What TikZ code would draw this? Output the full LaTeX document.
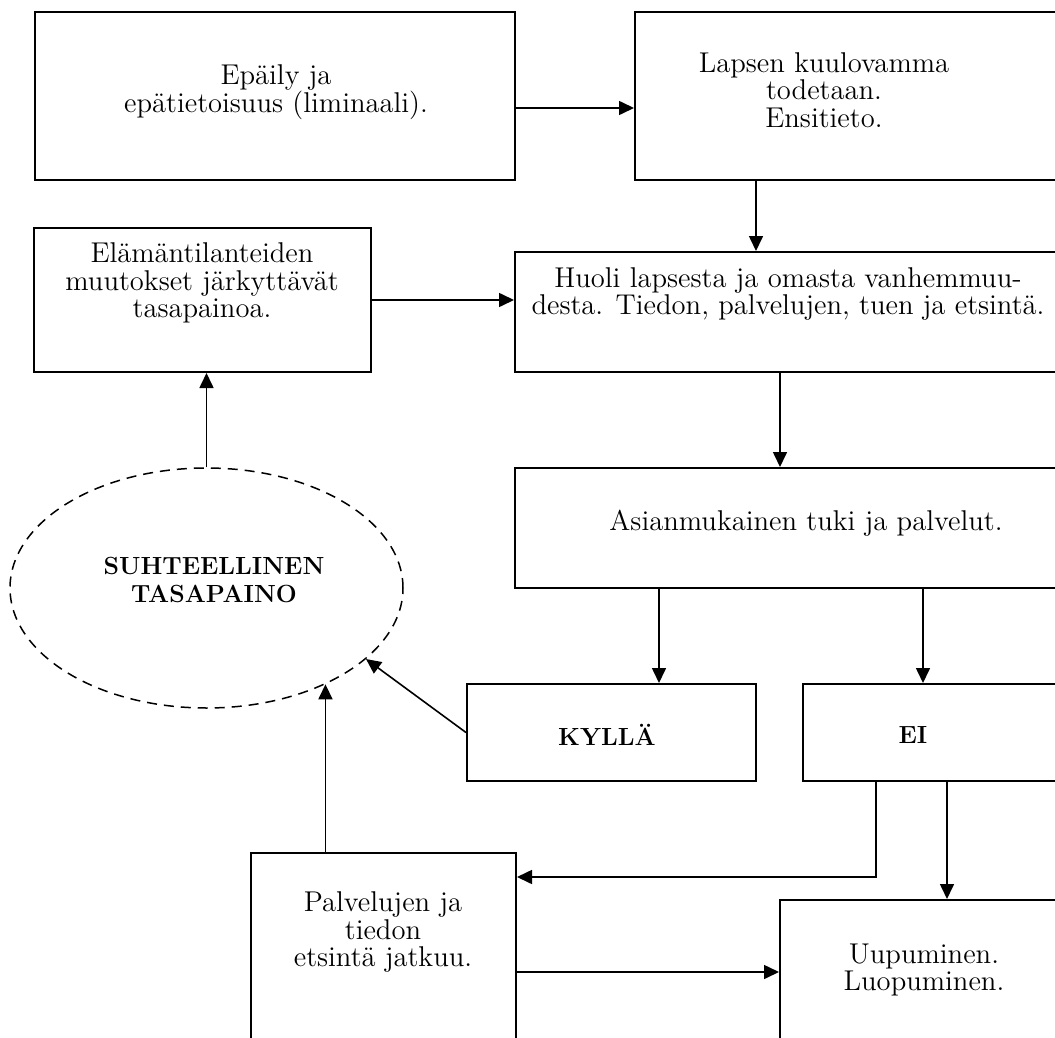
\documentclass[tikz,border=0pt]{standalone}
\usetikzlibrary{arrows.meta,shapes.geometric}

\begin{document}
\begin{tikzpicture}[
  x=0.5pt, y=-0.5pt,
  box/.style = {draw, rectangle, line width=1pt, inner sep=0pt},
  oval/.style = {draw, ellipse, dashed, dash pattern=on 5pt off 3.5pt, line width=0.75pt, inner sep=0pt},
  txt/.style = {align=center, font=\fontsize{14.3}{13.8}\selectfont, inner sep=0pt},
  bold/.style = {txt, font=\fontsize{12.4}{13.8}\selectfont\bfseries},
  arr/.style = {-{Triangle[length=7.5pt,width=7pt]}, line width=0.8pt}
]
\useasboundingbox (0,0) rectangle (1055,1038);
\clip (0,0) rectangle (1055,1038);

% boxes
\node[box, minimum width=240pt, minimum height=84pt] (suspect) at (275,96) {};
\node[box, minimum width=220pt, minimum height=84pt] (diag) at (855,96) {};
\node[box, minimum width=168.5pt, minimum height=72pt] (change) at (202.5,300) {};
\node[box, minimum width=280pt, minimum height=60pt] (worry) at (795,312) {};
\node[box, minimum width=280pt, minimum height=60pt] (care) at (795,528) {};
\node[oval, minimum width=196.5pt, minimum height=120pt] (balance) at (206.5,588) {};
\node[box, minimum width=144.5pt, minimum height=48.5pt] (yes) at (611.5,732.5) {};
\node[box, minimum width=136pt, minimum height=48.5pt] (no) at (939,732.5) {};
\node[box, minimum width=132.5pt, minimum height=103.5pt] (search) at (383.5,956.5) {};
\node[box, minimum width=147.5pt, minimum height=80pt] (tired) at (927.5,980) {};

% texts
\node[txt] (suspect-t) at (276,92) {Epäily ja\\epätietoisuus (liminaali).};
\node[txt] (diag-t) at (824,90) {Lapsen kuulovamma\\todetaan.\\Ensitieto.};
\node[txt] (change-t) at (202,283) {Elämäntilanteiden\\muutokset järkyttävät\\tasapainoa.};
\node[txt] (worry-t) at (788,294) {Huoli lapsesta ja omasta vanhemmuu-\\desta. Tiedon, palvelujen, tuen ja etsintä.};
\node[txt] (care-t) at (806,523) {Asianmukainen tuki ja palvelut.};
\node[bold] (balance-t) at (214,580) {SUHTEELLINEN\\TASAPAINO};
\node[bold] (yes-t) at (607,735) {KYLLÄ};
\node[bold] (no-t) at (913,735) {EI};
\node[txt] (search-t) at (383,932) {Palvelujen ja\\tiedon\\etsintä jatkuu.};
\node[txt] (tired-t) at (924,970) {Uupuminen.\\Luopuminen.};

% connectors
\draw[arr] ([yshift=-6pt]suspect.east) -- ([yshift=-6pt]diag.west);
\draw[arr] ([xshift=-49.5pt]diag.south) -- ([xshift=-49.5pt]diag.south |- worry.north);
\draw[arr] (change.east) -- (change.east -| worry.west);
\draw[arr] (balance.north) -- (balance.north |- change.south);
\draw[arr] ([xshift=-7.5pt]worry.south) -- ([xshift=-7.5pt]worry.south |- care.north);
\draw[arr] ([xshift=23.75pt]yes.north |- care.south) -- ([xshift=23.75pt]yes.north);
\draw[arr] ([xshift=-8pt]no.north |- care.south) -- ([xshift=-8pt]no.north);
\draw[arr] (yes.west) -- (balance.-24);
\draw[arr] (search.north -| balance.-39.8) -- (balance.-39.8);
\draw[arr] ([xshift=-31.5pt]no.south) |- ([yshift=39.75pt]search.east);
\draw[arr] ([xshift=4pt]no.south) -- ([xshift=4pt]no.south |- tired.north);
\draw[arr] ([yshift=-7.75pt]search.east) -- ([yshift=-7.75pt]search.east -| tired.west);
\end{tikzpicture}
\end{document}
